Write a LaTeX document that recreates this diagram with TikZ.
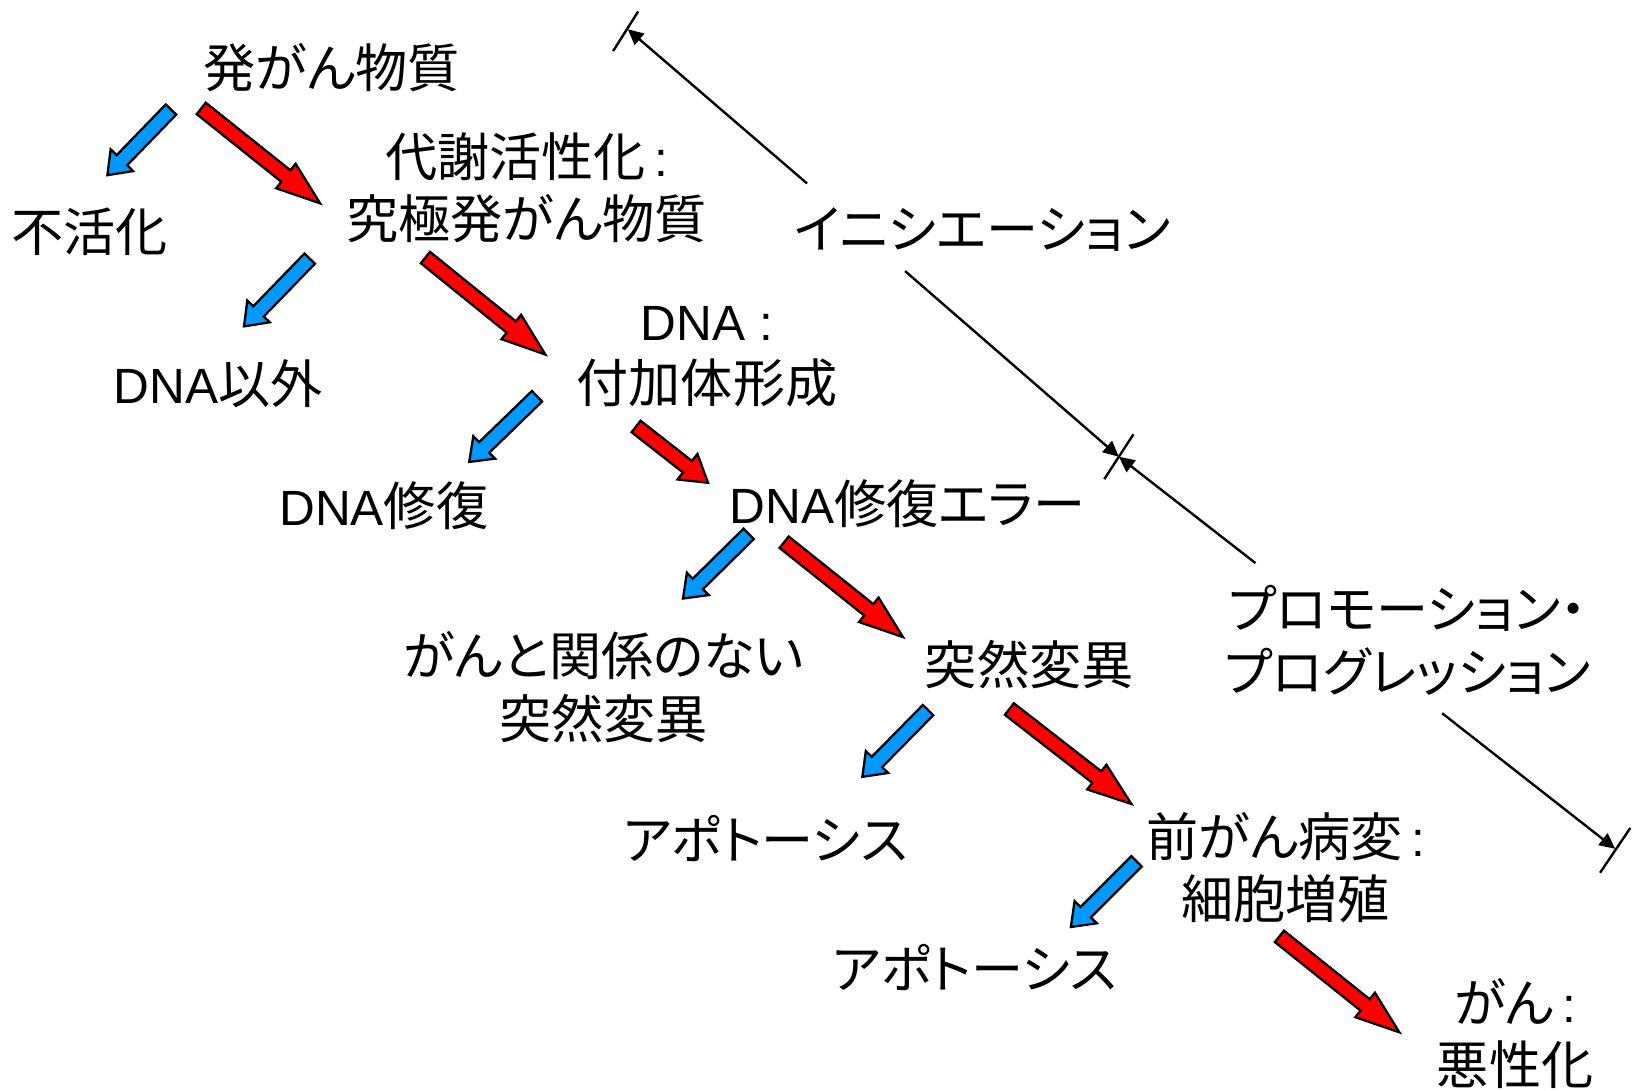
\documentclass[tikz,border=0pt]{standalone}
\usepackage{fontspec}
\setmainfont{Noto Sans CJK JP}[RawFeature=+palt]
\newfontfamily\latin{Liberation Sans}[Scale=0.95]
\usetikzlibrary{calc,arrows.meta}
\definecolor{bluearr}{RGB}{0,153,255}
\definecolor{redarr}{RGB}{255,0,0}
\tikzset{
  txt/.style={font=\fontsize{50}{60}\selectfont, align=center, inner sep=0pt},
  blockline/.style={draw=black, line width=2.2pt, line join=miter},
  phase/.style={line width=2.3pt, -{Triangle[length=15pt,width=14pt]}},
  tickline/.style={line width=2.3pt},
}
% #1 tail, #2 tip, #3 fill, #4 shaft half width, #5 head half width, #6 head length
\newcommand\blockarrow[6]{%
  \coordinate (babase) at ($(#2)!#6!(#1)$);
  \draw[blockline, fill=#3]
    ($(#1)!#4!90:(#2)$) -- ($(babase)!#4!90:(#2)$) -- ($(babase)!#5!90:(#2)$)
    -- (#2)
    -- ($(babase)!#5!-90:(#2)$) -- ($(babase)!#4!-90:(#2)$) -- ($(#1)!#4!-90:(#2)$)
    -- cycle;
}
\begin{document}
\begin{tikzpicture}[x=1pt,y=-1pt]
\useasboundingbox (0,0) rectangle (1568,1046);

% text nodes
\node[txt] (carc)   at (318,65)   {発がん物質};
\node[txt] (inact)  at (86,222)   {不活化};
\node[txt] (act)    at (505,180)  {代謝活性化{\latin\,:}\\究極発がん物質};
\node[txt] (nondna) at (209,368)  {{\latin DNA}以外};
\node[txt] (add)    at (678,342)  {{\latin DNA :}\\付加体形成};
\node[txt] (rep)    at (368,485)  {{\latin DNA}修復};
\node[txt] (err)    at (870,483)  {{\latin DNA}修復エラー};
\node[txt] (unrel)  at (579,659)  {がんと関係のない\\突然変異};
\node[txt] (mut)    at (987,637)  {突然変異};
\node[txt] (apoA)   at (734,804)  {アポトーシス};
\node[txt] (pre)    at (1233,832) {前がん病変{\latin\,:}\\細胞増殖};
\node[txt] (apoB)   at (935,928)  {アポトーシス};
\node[txt] (can)    at (1453,991) {がん{\latin\,:}\\悪性化};
\node[txt] (ini)    at (942,220)  {イニシエーション};
\node[txt] (pro)    at (1350,614) {プロモーション・\\プログレッション};

% block arrow end points
\coordinate (bA1) at (164,105);  \coordinate (bA2) at (103,168);
\coordinate (bB1) at (297,248);  \coordinate (bB2) at (234,313);
\coordinate (bC1) at (515,380);  \coordinate (bC2) at (450,443);
\coordinate (bD1) at (718,512);  \coordinate (bD2) at (655,574);
\coordinate (bE1) at (890,681);  \coordinate (bE2) at (827,745);
\coordinate (bF1) at (1090,826); \coordinate (bF2) at (1027,889);

\coordinate (rA1) at (193,104);  \coordinate (rA2) at (307,195);
\coordinate (rB1) at (408,247);  \coordinate (rB2) at (523,340);
\coordinate (rC1) at (610,409);  \coordinate (rC2) at (679,463);
\coordinate (rD1) at (752,520);  \coordinate (rD2) at (866,611);
\coordinate (rE1) at (968,680);  \coordinate (rE2) at (1085,771);
\coordinate (rF1) at (1227,898); \coordinate (rF2) at (1342,990);

\blockarrow{bA1}{bA2}{bluearr}{7pt}{15pt}{20pt}
\blockarrow{bB1}{bB2}{bluearr}{7pt}{15pt}{20pt}
\blockarrow{bC1}{bC2}{bluearr}{7pt}{15pt}{20pt}
\blockarrow{bD1}{bD2}{bluearr}{7pt}{15pt}{20pt}
\blockarrow{bE1}{bE2}{bluearr}{7pt}{15pt}{20pt}
\blockarrow{bF1}{bF2}{bluearr}{7pt}{15pt}{20pt}

\blockarrow{rA1}{rA2}{redarr}{7pt}{15pt}{42pt}
\blockarrow{rB1}{rB2}{redarr}{7pt}{15pt}{42pt}
\blockarrow{rC1}{rC2}{redarr}{7pt}{15.5pt}{25pt}
\blockarrow{rD1}{rD2}{redarr}{7pt}{15pt}{42pt}
\blockarrow{rE1}{rE2}{redarr}{7pt}{15pt}{42pt}
\blockarrow{rF1}{rF2}{redarr}{7pt}{15pt}{42pt}

% phase lines
\coordinate (tipA) at (602,28);
\coordinate (tipB) at (1073,438);
\coordinate (tipC) at (1549,814);
\coordinate (sA) at (774,176);
\coordinate (sB) at (868,260);
\coordinate (sC) at (1204,540);
\coordinate (sD) at (1383,684);

\draw[tickline] ($(tipA)+(-14,21)$) coordinate (tA1) -- ($(tipA)+(10,-17)$) coordinate (tA2);
\draw[tickline] ($(tipB)+(-14,21.5)$) coordinate (tB1) -- ($(tipB)+(14,-21.5)$) coordinate (tB2);
\draw[tickline] ($(tipC)+(-14.5,23)$) coordinate (tC1) -- ($(tipC)+(14.5,-20)$) coordinate (tC2);

\draw[phase] (sA) -- (tipA);
\draw[phase] (sB) -- (tipB);
\draw[phase] (sC) -- (tipB);
\draw[phase] (sD) -- (tipC);
\end{tikzpicture}
\end{document}
